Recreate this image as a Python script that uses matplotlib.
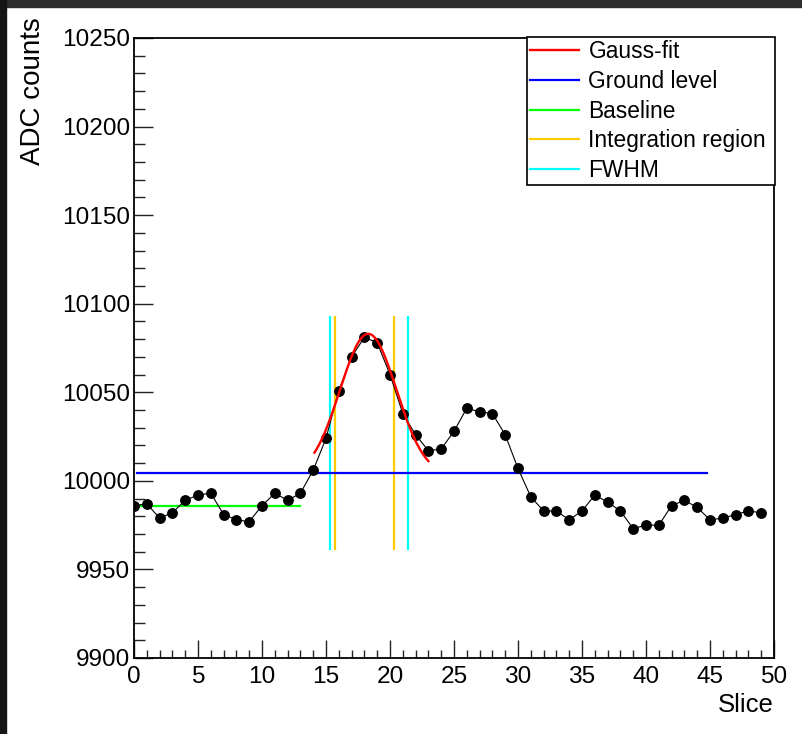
import numpy as np
import matplotlib
matplotlib.use("Agg")
import matplotlib.pyplot as plt
from matplotlib.patches import Rectangle
from matplotlib.ticker import MultipleLocator

# ADC samples per slice
slices = list(range(50))
adc = [9986, 9987, 9979, 9982, 9989, 9992, 9993, 9981, 9978, 9977,
       9986, 9993, 9989, 9993, 10006, 10024, 10051, 10070, 10081, 10078,
       10060, 10038, 10026, 10017, 10018, 10028, 10041, 10039, 10038, 10026,
       10007, 9991, 9983, 9983, 9978, 9983, 9992, 9988, 9983, 9973,
       9975, 9975, 9986, 9989, 9985, 9978, 9979, 9981, 9983, 9982]

# gauss fit parameters (constant, mean, sigma, offset) and fit range
gaus_par = [80.0, 18.3, 2.2, 10003.0]
fit_range = [14.1, 23.0]

ground_level = 10004.3
ground_range = [0.25, 44.8]
baseline = 9986.0
baseline_range = [0.1, 13.0]

integ_bounds = [15.70, 20.31]
fwhm_bounds = [15.31, 21.42]
vline_range = [9961.5, 10092.3]

plt.rcParams['font.family'] = ['Liberation Sans', 'DejaVu Sans']

W, H = 802, 734
fig = plt.figure(figsize=(W / 100, H / 100), dpi=100)
fig.patches.append(Rectangle((0, 1 - 7 / H), 1, 7 / H, transform=fig.transFigure,
                             color='#2e2e2e', zorder=0))
fig.patches.append(Rectangle((0, 0), 6 / W, 1, transform=fig.transFigure,
                             color='#151515', zorder=0))

ax = fig.add_axes([134 / W, 76 / H, 640 / W, 620 / H])

ax.plot(slices, adc, color='black', lw=0.8, marker='o', ms=6.8, zorder=5)

xf = np.linspace(fit_range[0], fit_range[1], 200)
A, mu, sig, off = gaus_par
yf = off + A * np.exp(-0.5 * ((xf - mu) / sig) ** 2)
ax.plot(xf, yf, color='#ff0000', lw=1.7, label='Gauss-fit', zorder=6)

ax.plot(ground_range, [ground_level] * 2, color='#0000ff', lw=1.6, label='Ground level', zorder=4)
ax.plot(baseline_range, [baseline] * 2, color='#00ff00', lw=1.6, label='Baseline', zorder=4)
for i, xv in enumerate(integ_bounds):
    ax.plot([xv, xv], vline_range, color='#ffcc00', lw=1.6,
            label='Integration region' if i == 0 else None, zorder=3)
for i, xv in enumerate(fwhm_bounds):
    ax.plot([xv, xv], vline_range, color='#00ffff', lw=1.6,
            label='FWHM' if i == 0 else None, zorder=3)

ax.set_xlim(0, 50)
ax.set_ylim(9900, 10250)
ax.xaxis.set_major_locator(MultipleLocator(5))
ax.xaxis.set_minor_locator(MultipleLocator(1))
ax.yaxis.set_major_locator(MultipleLocator(50))
ax.yaxis.set_minor_locator(MultipleLocator(10))
ax.tick_params(which='both', direction='in', top=False, right=False,
               colors='#222222', width=1.0, labelsize=17.6, labelcolor='black')
ax.tick_params(axis='x', which='major', length=13, pad=6)
ax.tick_params(axis='x', which='minor', length=6)
ax.tick_params(axis='y', which='major', length=14, pad=3)
ax.tick_params(axis='y', which='minor', length=8)
for s in ax.spines.values():
    s.set_linewidth(1.3)
    s.set_color('black')

fig.text(33 / W, 1 - 17 / H, 'ADC counts', rotation=90, ha='center', va='top', fontsize=20)
fig.text(774 / W, 22 / H, 'Slice', ha='right', va='baseline', fontsize=18.5)

# legend box spans 527..775 px horizontally, top at 37 px
leg = ax.legend(loc='upper left', bbox_to_anchor=(527 / W, 1 - 184 / H, 248 / W, 147 / H),
                bbox_transform=fig.transFigure, mode='expand', borderaxespad=0,
                fancybox=False, framealpha=1, edgecolor='black', fontsize=16.4,
                handlelength=2.15, handletextpad=0.4, labelspacing=0.29, borderpad=0.15)
leg.get_frame().set_linewidth(1.2)

fig.savefig('out.png', dpi=100)
